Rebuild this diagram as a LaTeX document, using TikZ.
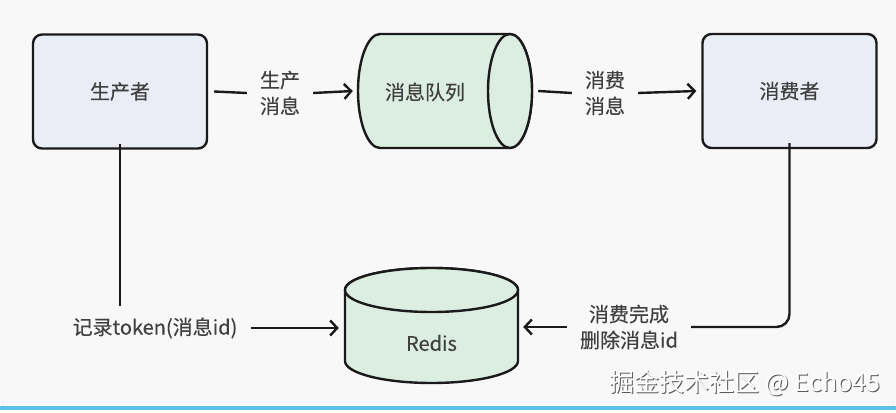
\documentclass[tikz,border=0pt]{standalone}
\usepackage{fontspec}
\setmainfont{Noto Sans CJK SC}
\newfontfamily\cjkm{Noto Sans CJK SC}[FakeBold=0.35]
\usetikzlibrary{arrows.meta,calc}
\definecolor{bgc}{HTML}{F8F8F8}
\definecolor{boxfill}{HTML}{EAEDF6}
\definecolor{cylfill}{HTML}{DCEEE2}
\definecolor{txt}{HTML}{404040}
\definecolor{ln}{HTML}{1A1A1A}
\definecolor{strip}{HTML}{5CC2EC}
\tikzset{
  txtfont/.style={text=txt, font=\cjkm\fontsize{20}{26}\selectfont},
  boxnode/.style={draw=ln, line width=2.4pt, rounded corners=9pt, fill=boxfill, minimum width=174pt, minimum height=114pt, inner sep=0pt, txtfont},
  lbl/.style={inner xsep=13pt, inner ysep=11pt, align=center, txtfont},
  conn/.style={draw=ln, line width=2.4pt},
  arr/.style={conn, -{Straight Barb[length=7pt,width=15pt,line width=2.4pt]}},
  cyl/.style={draw=ln, line width=2.4pt, fill=cylfill},
  ghost/.style={inner sep=0pt, txtfont}
}
\begin{document}
\begin{tikzpicture}[x=1pt,y=-1pt]
\useasboundingbox (0,0) rectangle (896,412);
\fill[white] (0,0) rectangle (896,412);
\draw[fill=bgc, draw=gray!25, rounded corners=6pt] (1,-8) rectangle (895,407);
\fill[strip] (0,406) rectangle (896,410);
% producer / consumer
\node[boxnode] (prod) at (120,91.5) {生产者};
\node[boxnode] (cons) at (789.5,91) {消费者};
% queue cylinder (horizontal)
\path[cyl] (380,34) -- (510,34) arc[start angle=-90, end angle=90, x radius=22, y radius=57]
  -- (380,148) arc[start angle=90, end angle=270, x radius=22, y radius=57] -- cycle;
\path[cyl] (510,91) ellipse[x radius=22, y radius=57];
\node[minimum width=174pt, minimum height=114pt, inner sep=0pt] (queue) at (445,91) {};
\node[ghost] (qtext) at (425,92) {消息队列};
% redis cylinder (vertical)
\path[cyl] (345,290) -- (345,361) arc[start angle=180, end angle=0, x radius=86.5, y radius=22]
  -- (518,290) arc[start angle=0, end angle=-180, x radius=86.5, y radius=22] -- cycle;
\path[cyl] (431.5,290) ellipse[x radius=86.5, y radius=22];
\node[minimum width=173pt, minimum height=115pt, inner sep=0pt] (redis) at (431.5,325.5) {};
\node[ghost] (rtext) at (431.5,343) {Redis};
% labels
\node[lbl] (l1) at (280,93) {生产\\消息};
\node[lbl] (l2) at (605,93) {消费\\消息};
\node[lbl] (tok) at (155,328) {记录token(消息id)};
\node[lbl] (del) at (629,327) {消费完成\\删除消息id};
% connectors
\draw[conn] ([xshift=6pt]prod.east) -- (l1.west);
\draw[arr] (l1.east) -- ([xshift=-5pt]queue.west);
\draw[conn] ([xshift=6pt]queue.east) -- (l2.west);
\draw[arr] (l2.east) -- ([xshift=-5pt]cons.west);
\draw[conn] ([yshift=6pt]prod.south) -- (prod.south |- tok.north);
\draw[arr] (tok.east) -- ([xshift=-6pt]redis.west |- tok.east);
\draw[conn, rounded corners=13pt] ([yshift=6pt]cons.south) |- (del.east);
\draw[arr] (del.west) -- ([xshift=5pt]redis.east |- del.west);
% watermark
\node[text=gray!70!black, font=\fontsize{25}{28}\selectfont] at (746,384) {掘金技术社区 @ Echo45};
\node[text=white, font=\fontsize{25}{28}\selectfont] at (745,383) {掘金技术社区 @ Echo45};
\end{tikzpicture}
\end{document}
